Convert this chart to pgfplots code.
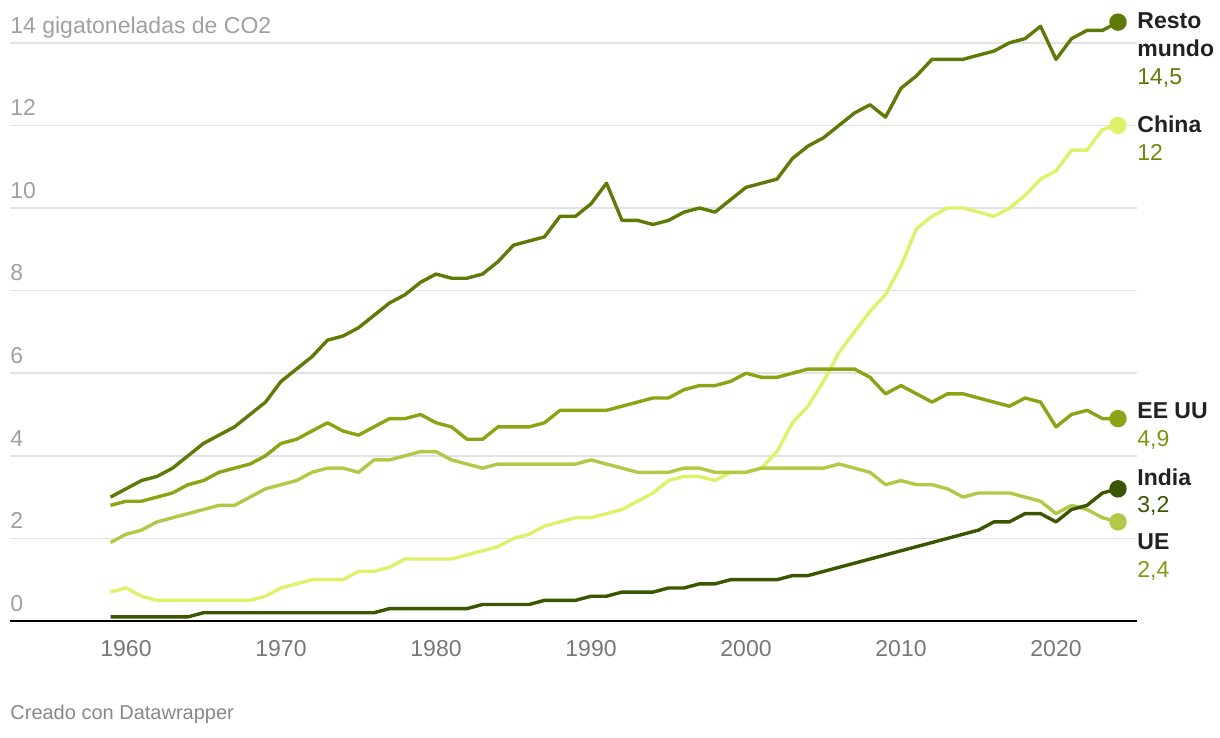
\documentclass[border=0pt]{standalone}
\usepackage{pgfplots}
\pgfplotsset{compat=1.18}
\usepackage{fontspec}
\setmainfont{Liberation Sans}
\definecolor{resto}{HTML}{5F7B07}
\definecolor{china}{HTML}{DFF06B}
\definecolor{eeuu}{HTML}{8AA415}
\definecolor{ue}{HTML}{B5C746}
\definecolor{india}{HTML}{3A5600}
\definecolor{gridc}{HTML}{E2E2E2}
\definecolor{ylab}{HTML}{A0A0A0}
\definecolor{xlab}{HTML}{777777}
\definecolor{namec}{HTML}{222222}
\tikzset{ylabnode/.style={anchor=base west, inner sep=0pt, text=ylab, font=\fontsize{11.5}{13}\selectfont, yshift=4.85pt}}
\begin{document}
\begin{tikzpicture}[x=0.5pt,y=0.5pt]
\useasboundingbox (0,0) rectangle (1220,738);
\begin{axis}[
  at={(5pt,58.5pt)}, anchor=south west,
  scale only axis, width=563.5pt, height=309.75pt,
  xmin=1952.516, xmax=2025.226, ymin=0, ymax=15,
  axis line style={draw=none},
  ytick={2,4,...,14}, yticklabels={},
  ymajorgrids, grid style={gridc, line width=0.75pt},
  xtick={1960,1970,...,2020},
  xticklabels={1960,1970,1980,1990,2000,2010,2020},
  xticklabel style={anchor=base, yshift=-18pt, font=\fontsize{11.5}{13}\selectfont, text=xlab},
  major tick length=0pt,
  clip=false,
  every axis plot/.append style={line width=1.7pt, line join=round, mark=*, mark indices={66}, mark size=3.5pt},
]
\draw[black, line width=1pt] (axis cs:1952.516,0) -- (axis cs:2025.226,0);
\node[ylabnode] at (axis cs:1952.516,0) {0};
\node[ylabnode] at (axis cs:1952.516,2) {2};
\node[ylabnode] at (axis cs:1952.516,4) {4};
\node[ylabnode] at (axis cs:1952.516,6) {6};
\node[ylabnode] at (axis cs:1952.516,8) {8};
\node[ylabnode] at (axis cs:1952.516,10) {10};
\node[ylabnode] at (axis cs:1952.516,12) {12};
\node[ylabnode] at (axis cs:1952.516,14) {14 gigatoneladas de CO2};
% China
\addplot[china, mark options={fill=china, draw=china}] coordinates {
(1959,0.7)(1960,0.8)(1961,0.6)(1962,0.5)(1963,0.5)(1964,0.5)(1965,0.5)(1966,0.5)(1967,0.5)(1968,0.5)(1969,0.6)
(1970,0.8)(1971,0.9)(1972,1.0)(1973,1.0)(1974,1.0)(1975,1.2)(1976,1.2)(1977,1.3)(1978,1.5)(1979,1.5)
(1980,1.5)(1981,1.5)(1982,1.6)(1983,1.7)(1984,1.8)(1985,2.0)(1986,2.1)(1987,2.3)(1988,2.4)(1989,2.5)
(1990,2.5)(1991,2.6)(1992,2.7)(1993,2.9)(1994,3.1)(1995,3.4)(1996,3.5)(1997,3.5)(1998,3.4)(1999,3.6)
(2000,3.6)(2001,3.7)(2002,4.1)(2003,4.8)(2004,5.2)(2005,5.8)(2006,6.5)(2007,7.0)(2008,7.5)(2009,7.9)
(2010,8.6)(2011,9.5)(2012,9.8)(2013,10.0)(2014,10.0)(2015,9.9)(2016,9.8)(2017,10.0)(2018,10.3)(2019,10.7)
(2020,10.9)(2021,11.4)(2022,11.4)(2023,11.9)(2024,12.0)};
% UE
\addplot[ue, mark options={fill=ue, draw=ue}] coordinates {
(1959,1.9)(1960,2.1)(1961,2.2)(1962,2.4)(1963,2.5)(1964,2.6)(1965,2.7)(1966,2.8)(1967,2.8)(1968,3.0)(1969,3.2)
(1970,3.3)(1971,3.4)(1972,3.6)(1973,3.7)(1974,3.7)(1975,3.6)(1976,3.9)(1977,3.9)(1978,4.0)(1979,4.1)
(1980,4.1)(1981,3.9)(1982,3.8)(1983,3.7)(1984,3.8)(1985,3.8)(1986,3.8)(1987,3.8)(1988,3.8)(1989,3.8)
(1990,3.9)(1991,3.8)(1992,3.7)(1993,3.6)(1994,3.6)(1995,3.6)(1996,3.7)(1997,3.7)(1998,3.6)(1999,3.6)
(2000,3.6)(2001,3.7)(2002,3.7)(2003,3.7)(2004,3.7)(2005,3.7)(2006,3.8)(2007,3.7)(2008,3.6)(2009,3.3)
(2010,3.4)(2011,3.3)(2012,3.3)(2013,3.2)(2014,3.0)(2015,3.1)(2016,3.1)(2017,3.1)(2018,3.0)(2019,2.9)
(2020,2.6)(2021,2.8)(2022,2.7)(2023,2.5)(2024,2.4)};
% EE UU
\addplot[eeuu, mark options={fill=eeuu, draw=eeuu}] coordinates {
(1959,2.8)(1960,2.9)(1961,2.9)(1962,3.0)(1963,3.1)(1964,3.3)(1965,3.4)(1966,3.6)(1967,3.7)(1968,3.8)(1969,4.0)
(1970,4.3)(1971,4.4)(1972,4.6)(1973,4.8)(1974,4.6)(1975,4.5)(1976,4.7)(1977,4.9)(1978,4.9)(1979,5.0)
(1980,4.8)(1981,4.7)(1982,4.4)(1983,4.4)(1984,4.7)(1985,4.7)(1986,4.7)(1987,4.8)(1988,5.1)(1989,5.1)
(1990,5.1)(1991,5.1)(1992,5.2)(1993,5.3)(1994,5.4)(1995,5.4)(1996,5.6)(1997,5.7)(1998,5.7)(1999,5.8)
(2000,6.0)(2001,5.9)(2002,5.9)(2003,6.0)(2004,6.1)(2005,6.1)(2006,6.1)(2007,6.1)(2008,5.9)(2009,5.5)
(2010,5.7)(2011,5.5)(2012,5.3)(2013,5.5)(2014,5.5)(2015,5.4)(2016,5.3)(2017,5.2)(2018,5.4)(2019,5.3)
(2020,4.7)(2021,5.0)(2022,5.1)(2023,4.9)(2024,4.9)};
% India
\addplot[india, mark options={fill=india, draw=india}] coordinates {
(1959,0.1)(1960,0.1)(1961,0.1)(1962,0.1)(1963,0.1)(1964,0.1)(1965,0.2)(1966,0.2)(1967,0.2)(1968,0.2)(1969,0.2)
(1970,0.2)(1971,0.2)(1972,0.2)(1973,0.2)(1974,0.2)(1975,0.2)(1976,0.2)(1977,0.3)(1978,0.3)(1979,0.3)
(1980,0.3)(1981,0.3)(1982,0.3)(1983,0.4)(1984,0.4)(1985,0.4)(1986,0.4)(1987,0.5)(1988,0.5)(1989,0.5)
(1990,0.6)(1991,0.6)(1992,0.7)(1993,0.7)(1994,0.7)(1995,0.8)(1996,0.8)(1997,0.9)(1998,0.9)(1999,1.0)
(2000,1.0)(2001,1.0)(2002,1.0)(2003,1.1)(2004,1.1)(2005,1.2)(2006,1.3)(2007,1.4)(2008,1.5)(2009,1.6)
(2010,1.7)(2011,1.8)(2012,1.9)(2013,2.0)(2014,2.1)(2015,2.2)(2016,2.4)(2017,2.4)(2018,2.6)(2019,2.6)
(2020,2.4)(2021,2.7)(2022,2.8)(2023,3.1)(2024,3.2)};
% Resto mundo
\addplot[resto, mark options={fill=resto, draw=resto}] coordinates {
(1959,3.0)(1960,3.2)(1961,3.4)(1962,3.5)(1963,3.7)(1964,4.0)(1965,4.3)(1966,4.5)(1967,4.7)(1968,5.0)(1969,5.3)
(1970,5.8)(1971,6.1)(1972,6.4)(1973,6.8)(1974,6.9)(1975,7.1)(1976,7.4)(1977,7.7)(1978,7.9)(1979,8.2)
(1980,8.4)(1981,8.3)(1982,8.3)(1983,8.4)(1984,8.7)(1985,9.1)(1986,9.2)(1987,9.3)(1988,9.8)(1989,9.8)
(1990,10.1)(1991,10.6)(1992,9.7)(1993,9.7)(1994,9.6)(1995,9.7)(1996,9.9)(1997,10.0)(1998,9.9)(1999,10.2)
(2000,10.5)(2001,10.6)(2002,10.7)(2003,11.2)(2004,11.5)(2005,11.7)(2006,12.0)(2007,12.3)(2008,12.5)(2009,12.2)
(2010,12.9)(2011,13.2)(2012,13.6)(2013,13.6)(2014,13.6)(2015,13.7)(2016,13.8)(2017,14.0)(2018,14.1)(2019,14.4)
(2020,13.6)(2021,14.1)(2022,14.3)(2023,14.3)(2024,14.5)};
\end{axis}
\begin{scope}[every node/.style={anchor=base west, inner sep=0pt, font=\fontsize{11.5}{13}\selectfont}]
\node[text=namec, font=\fontsize{11.5}{13}\selectfont\bfseries] at (1137,709) {Resto};
\node[text=namec, font=\fontsize{11.5}{13}\selectfont\bfseries] at (1137,681) {mundo};
\node[text=resto] at (1137,653) {14,5};
\node[text=namec, font=\fontsize{11.5}{13}\selectfont\bfseries] at (1137,605) {China};
\node[text={rgb,255:red,111;green,138;blue,14}] at (1137,577) {12};
\node[text=namec, font=\fontsize{11.5}{13}\selectfont\bfseries] at (1137,319) {EE UU};
\node[text={rgb,255:red,122;green,150;blue,14}] at (1137,291) {4,9};
\node[text=namec, font=\fontsize{11.5}{13}\selectfont\bfseries] at (1137,252) {India};
\node[text=india] at (1137,225) {3,2};
\node[text=namec, font=\fontsize{11.5}{13}\selectfont\bfseries] at (1137,188) {UE};
\node[text={rgb,255:red,127;green,154;blue,16}] at (1137,160) {2,4};
\node[text={rgb,255:red,136;green,136;blue,136}, font=\fontsize{10}{12}\selectfont] at (10,18) {Creado con Datawrapper};
\end{scope}
\end{tikzpicture}
\end{document}
